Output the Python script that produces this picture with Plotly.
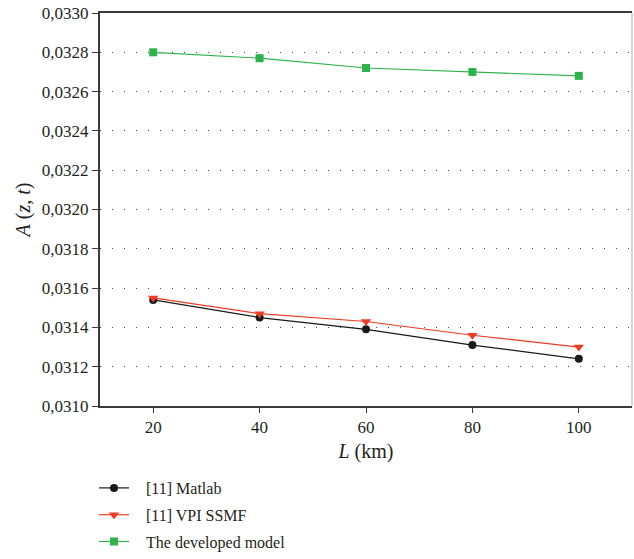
import plotly.graph_objects as go

# Fibre length (km)
lengths = [20, 40, 60, 80, 100]

# Amplitude A(z, t) for each model
matlab = [0.03154, 0.03145, 0.03139, 0.03131, 0.03124]
vpi_ssmf = [0.03155, 0.03147, 0.03143, 0.03136, 0.03130]
developed = [0.03280, 0.03277, 0.03272, 0.03270, 0.03268]

series_names = ["[11] Matlab", "[11] VPI SSMF", "The developed model"]
y_ticks = [0.0310, 0.0312, 0.0314, 0.0316, 0.0318, 0.0320,
           0.0322, 0.0324, 0.0326, 0.0328, 0.0330]

W, H = 634, 559
M_L, M_R, M_T, M_B = 100, 2, 13, 152
plot_w, plot_h = W - M_L - M_R, H - M_T - M_B

font_family = "Liberation Serif"
text_color = "#231f20"
pad = "\u00a0\u00a0\u00a0"  # gap between legend swatch and label

styles = [
    dict(color="#1a1a1a", symbol="circle", size=8),
    dict(color="#f03c24", symbol="triangle-down", size=9),
    dict(color="#2db34a", symbol="square", size=8),
]

fig = go.Figure()
for i, (vals, name, st) in enumerate(zip([matlab, vpi_ssmf, developed], series_names, styles)):
    fig.add_trace(go.Scatter(
        x=lengths, y=vals, name=pad + name, mode="lines+markers",
        legendgroup=f"g{i}",
        line=dict(color=st["color"], width=1.2),
        marker=dict(symbol=st["symbol"], size=st["size"], color=st["color"]),
    ))

# light right-hand border of the plot frame
fig.add_shape(type="line", xref="paper", yref="paper", x0=1, x1=1, y0=0, y1=1,
              line=dict(color="#c8c8c8", width=1.5))

fig.update_layout(
    width=W, height=H,
    margin=dict(l=M_L, r=M_R, t=M_T, b=M_B),
    paper_bgcolor="white", plot_bgcolor="white",
    separators=",.",
    font=dict(family=font_family, size=17, color=text_color),
    showlegend=True,
    legend=dict(
        orientation="v",
        x=(94 - M_L) / plot_w, xanchor="left",
        y=-(H - (H - M_B)) / plot_h, yanchor="bottom",
        font=dict(family=font_family, size=16, color=text_color),
        tracegroupgap=3, itemwidth=30,
        bgcolor="rgba(0,0,0,0)",
    ),
    xaxis=dict(
        range=[10, 110], tickvals=lengths, ticks="outside", ticklen=5,
        tickcolor="#3a3a3a", showline=True, linecolor="#3a3a3a", linewidth=2,
        mirror=True, showgrid=False, zeroline=False,
        title=dict(text="<i>L</i> (km)", standoff=8),
        tickfont=dict(size=17),
    ),
    yaxis=dict(
        range=[0.0310, 0.0330], tickvals=y_ticks, tickformat=".4f",
        ticks="outside", ticklen=6, tickcolor="#3a3a3a",
        showline=True, linecolor="#3a3a3a", linewidth=2,
        showgrid=True, gridcolor="#444444", griddash="1px,11px", gridwidth=1.2,
        zeroline=False,
        title=dict(text="<i>A</i> (<i>z</i>, <i>t</i>)", standoff=6),
        tickfont=dict(size=17),
    ),
)

fig.write_html("out.html")
